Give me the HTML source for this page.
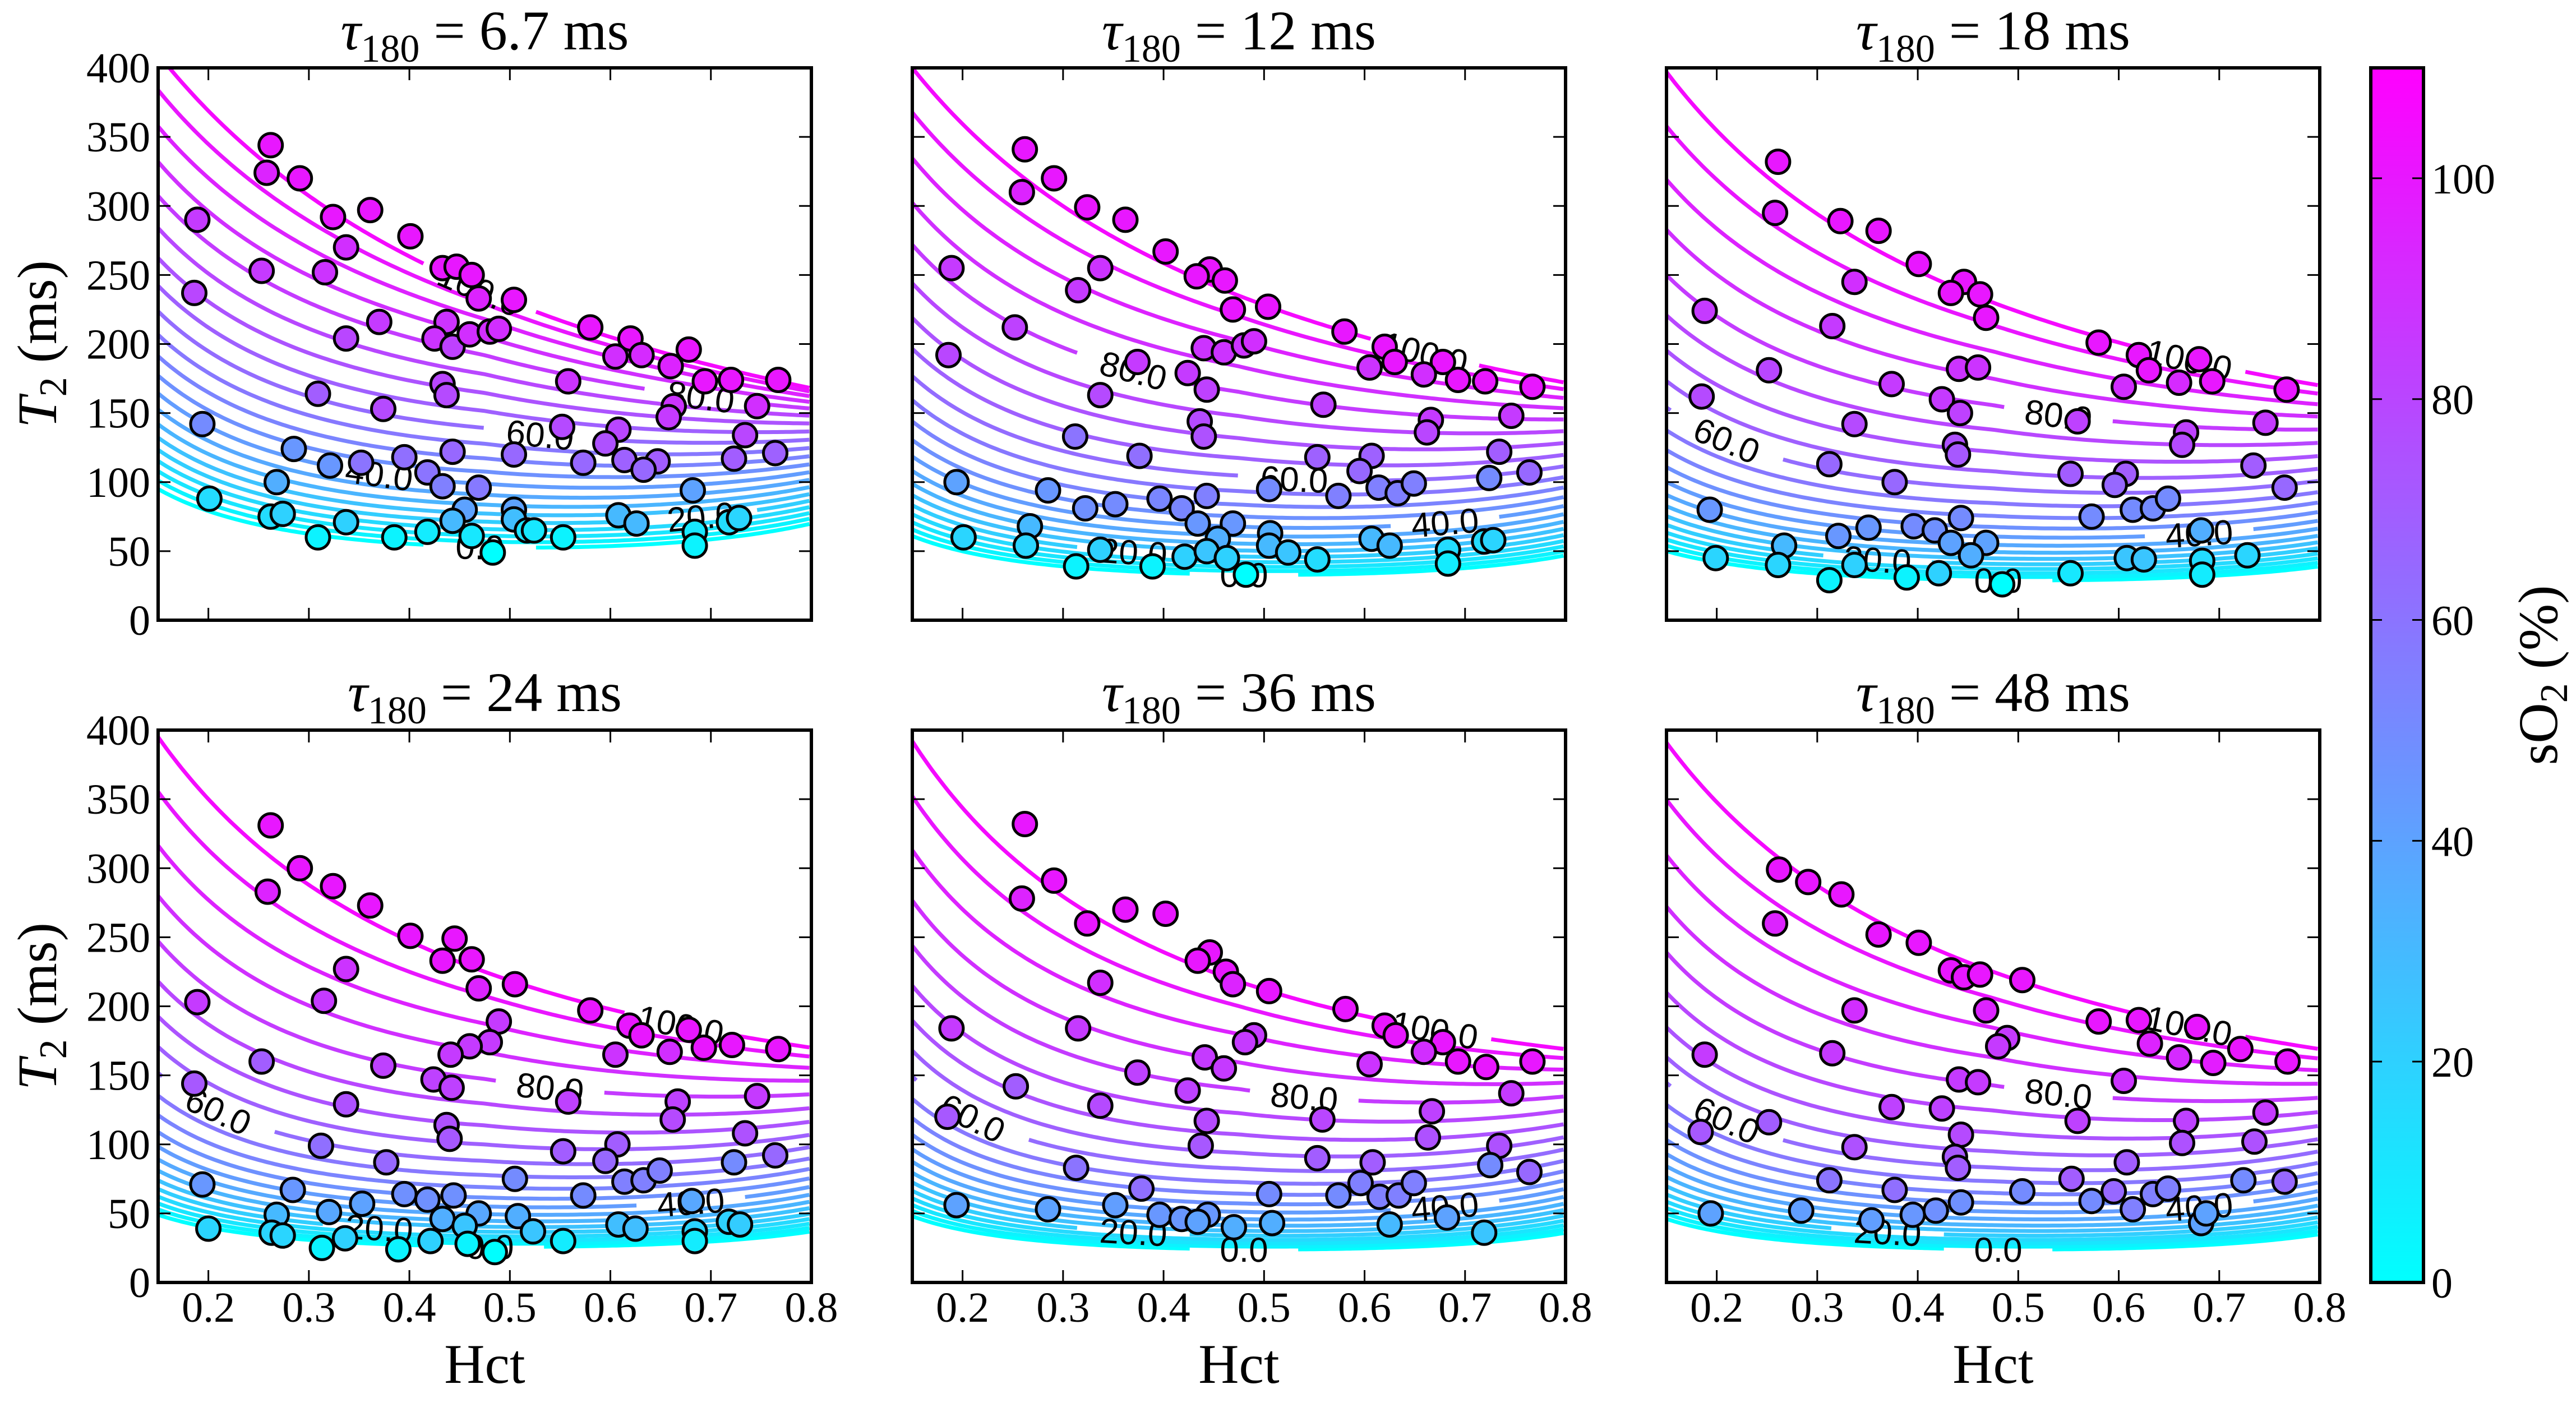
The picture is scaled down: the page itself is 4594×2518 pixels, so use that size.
<!DOCTYPE html>
<html><head><meta charset="utf-8"><style>
html,body{margin:0;padding:0;background:#fff;}
svg{display:block;}
text{font-family:"Liberation Serif",serif;fill:#000;}
.lbl{font-family:"Liberation Sans",sans-serif;}
</style></head><body>
<svg id="chart" xmlns="http://www.w3.org/2000/svg" width="4594" height="2518" viewBox="0 0 4594 2518">
<rect width="4594" height="2518" fill="#fff"/>
<defs>
<linearGradient id="cbgrad" x1="0" y1="1" x2="0" y2="0">
<stop offset="0" stop-color="#00ffff"/><stop offset="1" stop-color="#ff00ff"/>
</linearGradient>
</defs>
<g id="panels"></g>
<g>
<rect x="4228" y="121" width="94" height="2166" fill="url(#cbgrad)" stroke="#000" stroke-width="6"/>
<g id="cbticks"></g>
<text transform="translate(4560,1204) rotate(-90)" text-anchor="middle" font-size="100">sO<tspan font-size="70" dy="18">2</tspan><tspan dy="-18"> (%)</tspan></text>
</g>
</svg>
<script>
// ---- data ----
const xTicks = [0.2,0.3,0.4,0.5,0.6,0.7,0.8];
const yTicks = [0,50,100,150,200,250,300,350,400];
const cbTicks = [0,20,40,60,80,100];
const contourLevels = [0,5,10,15,20,25,30,35,40,45,50,55,60,65,70,75,80,85,90,95,100];
const labelLevels = [0,20,40,60,80,100];
const tauLabels = ["6.7","12","18","24","36","48"];
// model anchors: T2 at Hct 0.15, 0.475, 0.8 for sO2=100 and sO2=0
const topAnchors = [[410,238,168],[400,235,172],[397,230,170],[395,225,170],[392,218,169],[391,225,169]];
const botAnchors = [[95,53,70],[61,33,47],[50,29,39],[49,26,37],[48,24,36],[46,24,35]];
const leftLinearWeight = [0.38,0.28,0.28,0.28,0.28,0.28];
const midLinearWeight = [0.18,0.18,0.18,0.18,0.18,0.18];
// label Hct positions per panel for levels 0,20,40,60,80,100
const labelHct = [[0.47,0.69,0.37,0.53,0.69,0.47],[0.48,0.37,0.68,0.53,0.37,0.66],[0.48,0.36,0.68,0.21,0.54,0.67],[0.48,0.37,0.68,0.21,0.54,0.67],[0.48,0.37,0.68,0.21,0.54,0.67],[0.48,0.37,0.68,0.21,0.54,0.67]];

const hct1=[.262,.258,.291,.324,.361,.401,.337,.189,.253,.316,.186,.433,.447,.462,.469,.504,.370,.437,.337,.425,.443,.460,.480,.489,.580,.620,.605,.631,.678,.660,.694,.720,.767,.558,.433,.437,.309,.374,.663,.658,.746,.194,.552,.608,.595,.734,.285,.443,.504,.395,.764,.321,.352,.573,.614,.647,.723,.633,.418,.268,.433,.469,.682,.201,.455,.504,.262,.274,.337,.443,.504,.608,.626,.718,.728,.309,.385,.418,.462,.517,.524,.553,.684,.684,.483];
const t2_1=[344,324,320,292,297,278,270,290,253,252,237,255,256,250,233,232,216,216,204,204,198,207,209,211,212,204,191,192,196,184,173,174,174,173,171,163,164,153,155,147,155,142,140,138,128,134,124,122,120,118,121,112,114,114,116,115,117,109,107,100,97,96,94,88,80,80,75,77,71,72,73,76,70,71,74,60,60,64,61,65,65,60,64,54,49];
const so2_1=[100,95,100,100,100,100,90,85,85,88,80,100,100,100,95,100,85,88,80,88,82,90,90,90,100,100,90,92,100,95,100,100,100,88,80,78,70,78,88,85,90,50,78,80,75,80,45,65,65,62,68,45,60,65,68,70,70,65,60,35,55,58,40,15,40,40,15,20,20,30,28,30,30,15,18,5,5,8,10,12,10,5,10,5,0];

const hct2=[.262,.291,.259,.324,.362,.402,.446,.433,.461,.469,.504,.580,.620,.630,.678,.693,.720,.767,.189,.337,.315,.252,.186,.440,.460,.480,.490,.374,.605,.659,.424,.443,.337,.559,.666,.662,.746,.436,.440,.312,.376,.553,.607,.595,.734,.764,.194,.285,.505,.574,.614,.633,.649,.724,.322,.352,.396,.418,.443,.434,.469,.267,.454,.506,.607,.625,.201,.263,.337,.421,.443,.463,.505,.524,.553,.683,.683,.719,.728,.313,.389,.482];
const t2_2=[341,320,310,299,290,267,254,249,246,225,227,209,198,187,187,174,173,169,255,255,239,212,192,197,194,199,202,187,183,178,179,167,163,156,145,136,148,144,133,133,119,118,119,108,122,107,100,94,95,90,96,92,99,103,81,84,88,81,90,70,70,68,59,63,59,54,60,54,51,46,50,45,54,49,44,51,41,57,58,39,39,33];
const so2_2=[100,100,95,100,100,100,100,100,100,100,100,100,100,100,100,100,100,100,85,88,85,82,80,88,88,88,90,85,88,90,85,82,78,82,85,80,85,78,75,60,62,68,68,65,70,65,40,45,50,55,55,55,55,50,48,50,52,52,55,45,45,30,35,35,30,30,18,18,20,20,25,20,30,25,15,15,8,15,18,5,5,0];

const hct3=[.261,.258,.323,.361,.401,.446,.433,.462,.468,.580,.620,.630,.680,.693,.660,.605,.767,.337,.188,.315,.252,.185,.441,.460,.374,.424,.442,.559,.667,.663,.746,.337,.437,.440,.312,.377,.552,.607,.596,.734,.765,.193,.573,.614,.634,.649,.443,.396,.417,.351,.321,.433,.468,.267,.453,.682,.199,.261,.337,.421,.608,.625,.683,.728,.552,.389,.312,.683,.484];
const t2_3=[332,295,289,282,258,245,237,236,219,201,192,181,189,173,172,169,167,245,224,213,181,162,182,183,171,160,150,144,136,127,143,142,127,120,113,100,106,106,98,112,96,80,75,80,81,88,74,68,65,67,61,56,56,54,47,65,45,40,40,34,45,44,43,47,34,31,29,33,26];
const so2_3=[100,95,100,100,100,100,100,100,100,100,100,100,100,100,92,90,100,90,85,85,80,78,88,88,85,85,82,82,82,78,85,78,75,72,65,65,70,70,65,70,65,45,50,50,50,50,50,50,48,45,45,40,40,30,35,35,18,18,20,20,25,25,15,18,10,5,5,8,0];

const hct4=[.262,.291,.259,.324,.361,.401,.445,.433,.462,.469,.505,.580,.619,.631,.678,.693,.721,.767,.189,.337,.315,.489,.480,.460,.441,.605,.659,.253,.374,.186,.424,.442,.558,.667,.746,.662,.337,.437,.440,.734,.312,.377,.553,.607,.595,.764,.723,.194,.284,.505,.573,.614,.633,.649,.395,.418,.444,.353,.320,.268,.433,.469,.508,.681,.200,.263,.274,.336,.421,.455,.523,.608,.625,.718,.729,.684,.313,.389,.553,.684,.485,.458];
const t2_4=[331,300,283,287,273,251,249,233,234,213,216,197,186,179,183,170,172,169,203,227,204,189,174,171,165,165,167,160,157,144,147,141,131,131,135,118,129,114,104,108,99,87,95,100,88,92,87,71,67,75,63,73,74,81,64,60,63,57,51,49,46,50,48,59,39,36,34,32,30,41,37,42,39,44,42,37,25,24,30,30,22,28];
const so2_4=[100,100,95,100,100,100,100,100,100,95,100,100,100,100,100,100,100,100,85,88,85,85,85,85,85,88,90,70,82,72,82,82,82,82,85,78,75,75,72,75,62,65,70,70,65,65,50,45,45,50,50,55,55,55,48,48,48,40,38,30,35,38,35,38,18,18,18,20,20,25,25,28,28,20,22,18,5,5,8,8,0,5];

const hct5=[.262,.291,.259,.324,.362,.402,.446,.434,.462,.469,.505,.581,.620,.631,.678,.693,.721,.767,.337,.189,.315,.490,.481,.441,.460,.605,.659,.374,.253,.424,.443,.558,.667,.746,.337,.185,.663,.437,.553,.608,.734,.764,.725,.313,.378,.505,.574,.596,.615,.634,.649,.194,.285,.352,.396,.418,.444,.434,.470,.508,.625,.682,.719];
const t2_5=[332,291,278,260,270,267,239,233,225,216,211,198,186,179,174,160,156,160,217,184,184,179,174,163,155,158,167,152,142,139,117,118,124,137,128,120,105,99,90,87,99,80,85,83,68,64,63,72,62,63,72,56,53,56,49,46,49,44,40,43,42,47,36];
const so2_5=[100,100,95,100,100,100,100,100,100,95,100,100,100,100,100,100,100,100,90,85,85,85,85,85,85,88,90,82,70,82,78,80,82,85,78,72,75,72,70,70,75,65,50,60,62,50,50,55,55,55,55,40,40,42,45,45,45,40,35,35,30,40,25];

const hct6=[.262,.291,.324,.258,.361,.401,.433,.446,.462,.504,.468,.580,.620,.678,.721,.631,.660,.694,.768,.337,.188,.315,.489,.480,.441,.460,.605,.374,.424,.252,.184,.559,.667,.746,.443,.663,.337,.437,.440,.735,.608,.553,.595,.765,.724,.312,.377,.504,.573,.614,.634,.649,.395,.418,.443,.354,.284,.194,.682,.687];
const t2_6=[299,290,281,260,252,246,226,221,223,219,197,189,190,185,169,173,163,159,160,197,165,166,177,171,147,145,146,127,126,116,109,117,117,123,107,101,98,91,83,102,87,75,66,73,74,74,67,66,59,53,64,68,49,52,58,45,52,50,43,50];
const so2_6=[100,100,100,95,100,100,100,100,100,100,95,100,100,100,100,95,92,98,100,90,85,85,85,85,85,85,88,82,82,70,72,82,82,85,78,75,75,72,70,75,70,70,65,65,50,60,62,50,50,55,55,55,45,48,48,42,42,40,40,40];

const panelHct=[hct1,hct2,hct3,hct4,hct5,hct6];
const panelT2=[t2_1,t2_2,t2_3,t2_4,t2_5,t2_6];
const panelSo2=[so2_1,so2_2,so2_3,so2_4,so2_5,so2_6];

// ---- layout ----
const NS="http://www.w3.org/2000/svg";
const lefts=[282,1627,2972], tops=[121,1302], W=1165, H=985;
const xMin=0.15,xMax=0.8,yMin=0,yMax=400,cMax=110;
function mk(tag,attrs,parent){const e=document.createElementNS(NS,tag);for(const k in attrs)e.setAttribute(k,attrs[k]);if(parent)parent.appendChild(e);return e;}
function cool(v,vmax){let t=Math.max(0,Math.min(1,v/vmax));return `rgb(${Math.round(255*t)},${Math.round(255*(1-t))},255)`;}
function quad(a,h){const x0=.15,x1=.475,x2=.8;return a[0]*(h-x1)*(h-x2)/((x0-x1)*(x0-x2))+a[1]*(h-x0)*(h-x2)/((x1-x0)*(x1-x2))+a[2]*(h-x0)*(h-x1)/((x2-x0)*(x2-x1));}
function model(i,h,s){
  const ra=quad(topAnchors[i].map(v=>1/v),h), r0=quad(botAnchors[i].map(v=>1/v),h);
  const aL=leftLinearWeight[i], aM=midLinearWeight[i];
  const a=h<0.475?aL+(aM-aL)*(h-0.15)/0.325:aM;
  const u=1-s/100;
  return 1/(ra+(r0-ra)*(a*u+(1-a)*u*u));
}
const root=document.getElementById('panels');
for(let i=0;i<6;i++){
  const col=i%3,row=Math.floor(i/3),L=lefts[col],T=tops[row];
  const xs=h=>L+(h-xMin)/(xMax-xMin)*W, ys=v=>T+H-(v-yMin)/(yMax-yMin)*H;
  const g=mk('g',{},root);
  
  
  const cp=mk('clipPath',{id:'clip'+i},g); mk('rect',{x:L,y:T,width:W,height:H},cp);
  const tt=mk('text',{x:L+W/2,y:row?1268:88,'text-anchor':'middle','font-size':100},g);
  
  
  tt.innerHTML=`<tspan font-style="italic">τ</tspan><tspan font-size="70" dy="22">180</tspan><tspan dy="-22"> = ${tauLabels[i]} ms</tspan>`;
  const cg=mk('g',{'clip-path':`url(#clip${i})`},g);
  
  
  contourLevels.forEach(lv=>{
    const li=labelLevels.indexOf(lv); let gapC=null;
    if(li>=0) gapC=xs(labelHct[i][li]);
    let d='',pen=false;
    for(let h=xMin;h<=xMax+1e-9;h+=0.004){
      const px=xs(h),py=ys(model(i,h,lv));
      if(gapC!==null&&Math.abs(px-gapC)<95){pen=false;continue;}
      d+=(pen?'L':'M')+px.toFixed(1)+','+py.toFixed(1);pen=true;
    }
    const pth=mk('path',{d,fill:'none',stroke:cool(lv,104),'stroke-width':7},cg);
    
    
    if(gapC!==null){
      const h=labelHct[i][li], v=model(i,h,lv);
      const ang=Math.atan2(ys(model(i,h+0.01,lv))-ys(model(i,h-0.01,lv)),xs(h+0.01)-xs(h-0.01))*180/Math.PI;
      const tl=mk('text',{class:'lbl','text-anchor':'middle','font-size':62,transform:`translate(${xs(h).toFixed(1)},${ys(v).toFixed(1)}) rotate(${ang.toFixed(1)})`,y:22},g);
      
      
      tl.textContent=lv.toFixed(1);
    }
  });
  const pg=mk('g',{'clip-path':`url(#clip${i})`},g);
  
  
  panelHct[i].forEach((h,k)=>{
    const c=mk('circle',{cx:xs(h).toFixed(1),cy:ys(panelT2[i][k]).toFixed(1),r:21,fill:cool(panelSo2[i][k],cMax),stroke:'#000','stroke-width':5},pg);
    
    
  });
  const fr=mk('rect',{x:L,y:T,width:W,height:H,fill:'none',stroke:'#000','stroke-width':6},g);
  
  
  xTicks.forEach(v=>{
    const x=xs(v);
    mk('line',{x1:x,y1:T+H,x2:x,y2:T+H-22,stroke:'#000','stroke-width':3},g);
    mk('line',{x1:x,y1:T,x2:x,y2:T+22,stroke:'#000','stroke-width':3},g);
    if(row===1){const t=mk('text',{x:x,y:T+H+70,'text-anchor':'middle','font-size':76},g);
      
      
      t.textContent=v.toFixed(1);}
  });
  yTicks.forEach(v=>{
    const y=ys(v);
    mk('line',{x1:L,y1:y,x2:L+22,y2:y,stroke:'#000','stroke-width':3},g);
    mk('line',{x1:L+W,y1:y,x2:L+W-22,y2:y,stroke:'#000','stroke-width':3},g);
    if(col===0){const t=mk('text',{x:L-14,y:y+26,'text-anchor':'end','font-size':76},g);
      
      
      t.textContent=v;}
  });
  if(row===1){const t=mk('text',{x:L+W/2,y:2466,'text-anchor':'middle','font-size':100},g);
    
    
    t.textContent='Hct';}
  if(col===0){const t=mk('text',{transform:`translate(100,${T+H/2}) rotate(-90)`,'text-anchor':'middle','font-size':100},g);
    
    
    t.innerHTML='<tspan font-style="italic">T</tspan><tspan font-size="70" dy="18">2</tspan><tspan dy="-18"> (ms)</tspan>';}
}
const cbt=document.getElementById('cbticks');
cbTicks.forEach(v=>{
  const y=2287-v/cMax*2166;
  mk('line',{x1:4228,y1:y,x2:4248,y2:y,stroke:'#000','stroke-width':3},cbt);
  mk('line',{x1:4322,y1:y,x2:4302,y2:y,stroke:'#000','stroke-width':3},cbt);
  const t=mk('text',{x:4336,y:y+27,'font-size':76},cbt);
  
  
  t.textContent=v;
});
</script>
</body></html>
